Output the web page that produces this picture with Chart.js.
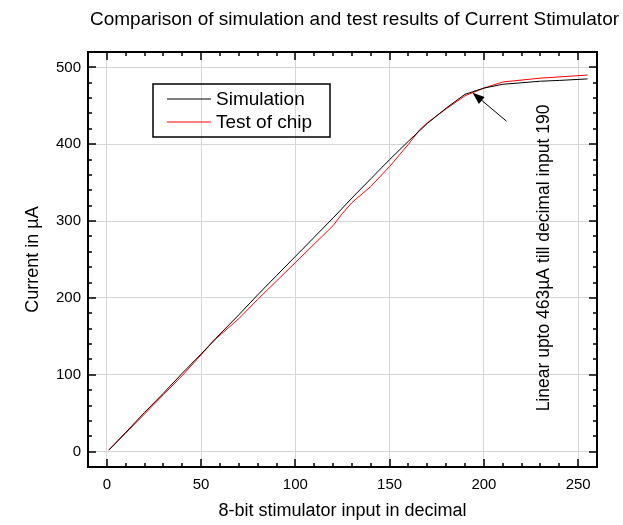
<!DOCTYPE html>
<html>
<head>
<meta charset="utf-8">
<script src="https://cdn.jsdelivr.net/npm/chart.js@4.4.0/dist/chart.umd.min.js"></script>
<style>
  html, body { margin: 0; padding: 0; background: #fff; }
</style>
</head>
<body>
<canvas id="myChart" width="623" height="525"></canvas>
<script>
/* global Chart */

// chart values
var chartTitle = 'Comparison of simulation and test results of Current Stimulator';
var seriesNames = ['Simulation', 'Test of chip'];
var simX = [1, 10, 20, 30, 40, 50, 60, 70, 80, 90, 100, 110, 120, 130, 140, 150, 160, 170, 180, 190, 200, 210, 220, 230, 240, 255];
var simY = [2, 25, 51, 76, 102, 127, 153, 178, 204, 229, 254, 279, 304, 330, 355, 380, 404, 427, 447, 465, 473, 478, 480, 482, 483, 485];
var chipX = [1, 10, 20, 30, 40, 50, 57, 70, 80, 90, 100, 110, 120, 125, 130, 140, 150, 160, 166, 170, 180, 190, 200, 210, 230, 255];
var chipY = [2, 24, 49, 74, 99, 126, 145, 173, 198, 222, 246, 270, 294, 310, 324, 345, 371, 400, 419, 428, 446, 463, 473, 481, 486, 490];
var xTicks = [0, 50, 100, 150, 200, 250];
var yTicks = [0, 100, 200, 300, 400, 500];
var xLabel = '8-bit stimulator input in decimal';
var yLabel = 'Current in \u00B5A';
var noteText = 'Linear upto 463\u00B5A till decimal input 190';
var notePos = [232, 252];
var arrowFrom = [212, 430];
var arrowTo = [194, 467];

var fontName = 'Arial, "Liberation Sans", sans-serif';

function toPoints(xs, ys) {
    var pts = [];
    for (var i = 0; i < xs.length; i++) {
        pts.push({ x: xs[i], y: ys[i] });
    }
    return pts;
}

var extras = {
    id: 'extras',
    afterDraw: function(chart) {
        var ctx = chart.ctx;
        var a = chart.chartArea;
        var xs = chart.scales.x, ys = chart.scales.y;
        var v, p, len;
        ctx.save();

        // frame and inward ticks
        ctx.strokeStyle = '#000';
        ctx.lineWidth = 2;
        ctx.strokeRect(a.left, a.top, a.right - a.left, a.bottom - a.top);
        ctx.lineWidth = 1.5;
        ctx.beginPath();
        for (v = -10; v <= 260; v += 10) {
            len = v % 50 === 0 ? 8 : 4;
            p = Math.round(xs.getPixelForValue(v));
            ctx.moveTo(p, a.bottom); ctx.lineTo(p, a.bottom - len);
            ctx.moveTo(p, a.top); ctx.lineTo(p, a.top + len);
        }
        for (v = -20; v <= 520; v += 20) {
            len = v % 100 === 0 ? 8 : 4;
            p = Math.round(ys.getPixelForValue(v));
            ctx.moveTo(a.left, p); ctx.lineTo(a.left + len, p);
            ctx.moveTo(a.right, p); ctx.lineTo(a.right - len, p);
        }
        ctx.stroke();

        // title
        ctx.fillStyle = '#000';
        ctx.font = '19px ' + fontName;
        ctx.textAlign = 'center';
        ctx.textBaseline = 'middle';
        ctx.fillText(chartTitle, (a.left + a.right) / 2 + 12, 20);

        // legend box
        var bx = 153, by = 84, bw = 177, bh = 53;
        ctx.lineWidth = 1.5;
        ctx.strokeRect(bx, by, bw, bh);
        ctx.font = '19px ' + fontName;
        ctx.textAlign = 'left';
        var ds = chart.data.datasets;
        for (var i = 0; i < ds.length; i++) {
            var ly = by + 15 + i * 23;
            ctx.strokeStyle = ds[i].borderColor;
            ctx.lineWidth = 1;
            ctx.beginPath();
            ctx.moveTo(bx + 14, ly); ctx.lineTo(bx + 58, ly);
            ctx.stroke();
            ctx.fillText(ds[i].label, bx + 63, ly + 1);
        }

        // arrow
        var x1 = xs.getPixelForValue(arrowFrom[0]), y1 = ys.getPixelForValue(arrowFrom[1]);
        var x2 = xs.getPixelForValue(arrowTo[0]), y2 = ys.getPixelForValue(arrowTo[1]);
        var ang = Math.atan2(y2 - y1, x2 - x1);
        ctx.strokeStyle = '#000';
        ctx.lineWidth = 1;
        ctx.beginPath();
        ctx.moveTo(x1, y1); ctx.lineTo(x2 - 8 * Math.cos(ang), y2 - 8 * Math.sin(ang));
        ctx.stroke();
        ctx.beginPath();
        ctx.moveTo(x2, y2);
        ctx.lineTo(x2 - 12 * Math.cos(ang) + 4.5 * Math.sin(ang), y2 - 12 * Math.sin(ang) - 4.5 * Math.cos(ang));
        ctx.lineTo(x2 - 12 * Math.cos(ang) - 4.5 * Math.sin(ang), y2 - 12 * Math.sin(ang) + 4.5 * Math.cos(ang));
        ctx.closePath();
        ctx.fill();

        // rotated note
        ctx.translate(xs.getPixelForValue(notePos[0]), ys.getPixelForValue(notePos[1]));
        ctx.rotate(-Math.PI / 2);
        ctx.textAlign = 'center';
        ctx.font = '17.5px ' + fontName;
        ctx.fillText(noteText, 0, 0);
        ctx.restore();
    }
};

var ctx = document.getElementById('myChart').getContext('2d');
var myChart = new Chart(ctx, {
    type: 'line',
    data: {
        datasets: [{
            label: seriesNames[0],
            data: toPoints(simX, simY),
            borderColor: '#000000',
            borderWidth: 1,
            pointRadius: 0,
            tension: 0
        }, {
            label: seriesNames[1],
            data: toPoints(chipX, chipY),
            borderColor: '#ff0000',
            borderWidth: 1,
            pointRadius: 0,
            tension: 0
        }]
    },
    options: {
        responsive: false,
        animation: false,
        layout: { padding: { top: 52, right: 26, left: 0, bottom: 0 } },
        plugins: {
            legend: { display: false },
            title: { display: false },
            tooltip: { enabled: false }
        },
        scales: {
            x: {
                type: 'linear',
                min: -10,
                max: 260,
                afterFit: function(s) { s.height = 58; },
                afterBuildTicks: function(s) {
                    s.ticks = xTicks.map(function(v) { return { value: v }; });
                },
                grid: { color: '#d6d6d6', lineWidth: 1, drawTicks: false },
                border: { display: false },
                ticks: { color: '#000', padding: 9, font: { family: fontName, size: 15 } },
                title: { display: true, text: xLabel, color: '#000', padding: { top: 0, bottom: 3 }, font: { family: fontName, size: 18 } }
            },
            y: {
                type: 'linear',
                min: -20,
                max: 520,
                afterFit: function(s) { s.width = 88; },
                afterBuildTicks: function(s) {
                    s.ticks = yTicks.map(function(v) { return { value: v }; });
                },
                grid: { color: '#d6d6d6', lineWidth: 1, drawTicks: false },
                border: { display: false },
                ticks: { color: '#000', padding: 7, font: { family: fontName, size: 15 } },
                title: { display: true, text: yLabel, color: '#000', padding: { top: 22, bottom: 0 }, font: { family: fontName, size: 18 } }
            }
        }
    },
    plugins: [extras]
});
</script>
</body>
</html>
